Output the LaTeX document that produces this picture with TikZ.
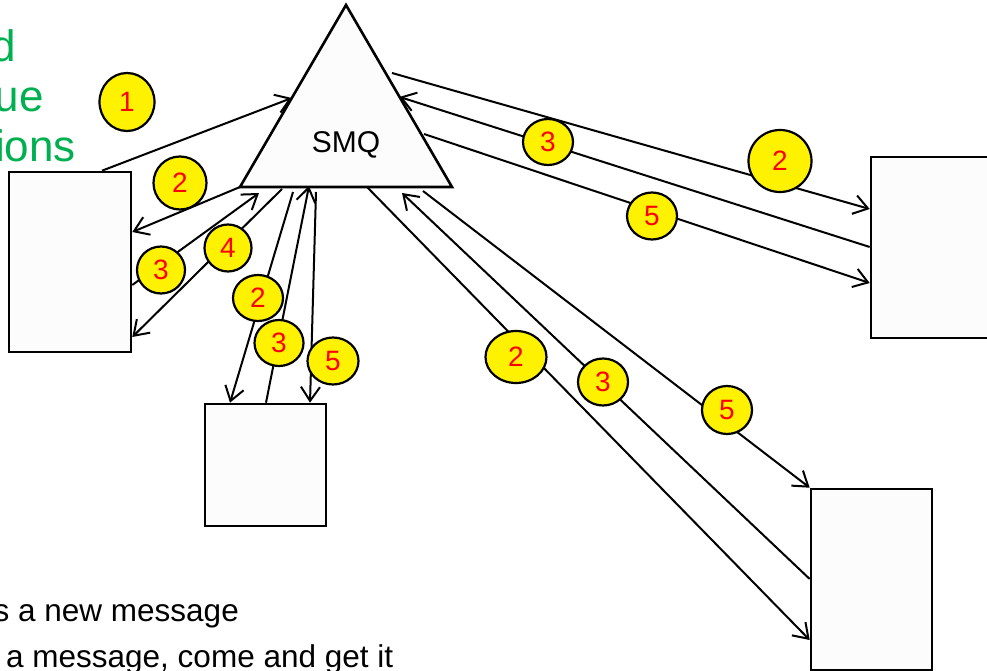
\documentclass[tikz,border=0pt]{standalone}
\usepackage{fontspec}
\setmainfont{Liberation Sans}
\usetikzlibrary{arrows.meta,shapes.geometric,calc}
\definecolor{ggreen}{RGB}{0,176,80}
\definecolor{boxfill}{RGB}{252,252,252}
\begin{document}
\begin{tikzpicture}[x=1pt,y=-1pt,
  conn/.style={line width=2pt},
  arr/.style={conn,-{Straight Barb[length=14pt,width=19pt,line width=2pt]}},
  box/.style={draw,line width=2.6pt,fill=boxfill,inner sep=0pt},
  num/.style={ellipse,draw,line width=2.2pt,fill=yellow,text=red,inner sep=0pt,
    font=\fontsize{28}{30}\selectfont},
  gtext/.style={anchor=base east,inner sep=0pt,text=ggreen,font=\fontsize{44}{50}\selectfont},
  btext/.style={anchor=base west,inner sep=0pt,font=\fontsize{31.5}{36}\selectfont}
]
\useasboundingbox (0,0) rectangle (987,671);

% triangle SMQ
\draw[line width=2.6pt,fill=boxfill,line join=miter] (346,5) coordinate (apex) -- (240,187) coordinate (tbl)
  -- (452,187) coordinate (tbr) -- cycle;
\node[anchor=base,inner sep=0pt,font=\fontsize{30}{32}\selectfont] (smq) at (346,153) {SMQ};

% boxes
\node[box,minimum width=122pt,minimum height=180pt] (L) at (70,262) {};
\node[box,minimum width=121pt,minimum height=122pt] (B) at (265.5,465) {};
\node[box,minimum width=122pt,minimum height=181pt] (R) at (932,247.5) {};
\node[box,minimum width=121pt,minimum height=181pt] (D) at (871.5,579.5) {};

% endpoints at the triangle
\coordinate (s1) at ($(apex)!0.511!(tbl)$);
\coordinate (b3) at (259,193);
\coordinate (b4) at (282,189);
\coordinate (b2b) at (293,192);
\coordinate (b3b) at (309,186);
\coordinate (b5b) at (316,192);
\coordinate (r2) at (392,73);
\coordinate (r3) at ($(apex)!0.505!(tbr)$);
\coordinate (r5) at (424,134);
\coordinate (d2) at (367,187);
\coordinate (d3) at (402,193);
\coordinate (d5) at (423,191);

% left box
\draw[arr] (L.north -| 102,0) -- (s1);
\draw[arr] (tbl) -- (L.east |- 0,232);
\draw[arr] (L.east |- 0,285) -- (b3);
\draw[arr] (b4) -- (L.east |- 0,337);
% bottom box
\draw[arr] (b2b) -- (B.north -| 230,0);
\draw[arr] (B.north -| 266,0) -- (b3b);
\draw[arr] (b5b) -- (B.north -| 310,0);
% right box
\draw[arr] (r2) -- (R.west |- 0,209);
\draw[arr] (R.west |- 0,247) -- (r3);
\draw[arr] (r5) -- (R.west |- 0,283);
% lower right box
\draw[arr] (d5) -- (D.north west);
\draw[arr] (D.west |- 0,579) -- (d3);
\draw[arr] (d2) -- (D.west |- 0,640);

% numbered circles
\node[num,minimum width=55pt,minimum height=58pt] (c1) at (127,102) {1};
\node[num,minimum width=53pt,minimum height=53pt] (c2) at (180,183) {2};
\node[num,minimum width=48pt,minimum height=47pt] (c3) at (161,270) {3};
\node[num,minimum width=47pt,minimum height=47pt] (c4) at (228,248) {4};
\node[num,minimum width=50pt,minimum height=46pt] (c5) at (258,298) {2};
\node[num,minimum width=49pt,minimum height=46pt] (c6) at (279,343) {3};
\node[num,minimum width=51pt,minimum height=47pt] (c7) at (333,361) {5};
\node[num,minimum width=50pt,minimum height=46pt] (c8) at (548,142) {3};
\node[num,minimum width=63pt,minimum height=62pt] (c9) at (780,161) {2};
\node[num,minimum width=50pt,minimum height=47pt] (c10) at (652,216) {5};
\node[num,minimum width=61pt,minimum height=52pt] (c11) at (516,357) {2};
\node[num,minimum width=50pt,minimum height=47pt] (c12) at (603,382) {3};
\node[num,minimum width=50pt,minimum height=48pt] (c13) at (727,410) {5};

% green text (clipped at the left edge, as in the reference)
\node[gtext] (g1) at (16,62) {d};
\node[gtext] (g2) at (44,112) {ue};
\node[gtext] (g3) at (76,162) {ions};

% bottom text
\node[btext] (t1) at (-6.5,621) {s a new message};
\node[btext] (t2) at (6,667) {a message, come and get it};
\end{tikzpicture}
\end{document}
